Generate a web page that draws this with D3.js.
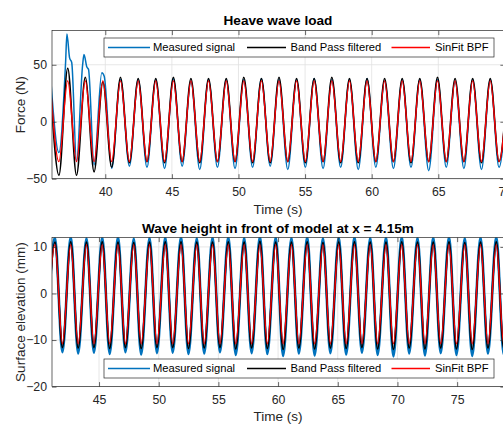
<!DOCTYPE html>
<html>
<head>
<meta charset="utf-8">
<script src="https://cdn.jsdelivr.net/npm/d3@7"></script>
<style>
  body { margin: 0; background: #fff; }
  svg { display: block; font-family: "Liberation Sans", Arial, Helvetica, sans-serif; }
</style>
</head>
<body>
<svg id="chart" width="503" height="425"></svg>
<script>
// ---------- data ----------
const seriesNames = ["Measured signal", "Band Pass filtered", "SinFit BPF"];

// Heave wave load: crest / trough instants (s), alternating crest, trough, ...
const forceT = [35.86, 36.52, 37.18, 37.84, 38.50, 39.16, 39.82, 40.48, 41.14, 41.81,
  42.47, 43.13, 43.79, 44.45, 45.11, 45.77, 46.43, 47.09, 47.75, 48.42,
  49.08, 49.74, 50.40, 51.06, 51.72, 52.38, 53.04, 53.70, 54.36, 55.02,
  55.68, 56.35, 57.01, 57.67, 58.33, 58.99, 59.65, 60.31, 60.97, 61.63,
  62.29, 62.95, 63.61, 64.28, 64.94, 65.60, 66.26, 66.92, 67.58, 68.24,
  68.90, 69.56, 70.22];
// band pass filtered force (N)
const forceBpf = [36, -47, 47, -47, 39, -44, 35, -40, 39, -36,
  38, -35, 38, -36, 39, -35, 38, -36, 38, -35,
  38, -35, 39, -36, 38, -36, 39, -35, 38, -36,
  38, -35, 39, -36, 38, -36, 38, -35, 38, -35,
  38, -36, 38, -35, 39, -35, 38, -35, 38, -36,
  38, -35, 38];
// sine fit of the filtered force (N)
const forceSinFit = [36, -35, 36, -35, 36, -35, 36, -35, 36, -35,
  36, -35, 36, -35, 36, -35, 36, -35, 36, -35,
  36, -35, 36, -35, 36, -35, 36, -35, 36, -35,
  36, -35, 36, -35, 36, -35, 36, -35, 36, -35,
  36, -35, 36, -35, 36, -35, 36, -35, 36, -35,
  36, -35, 36];
// measured force, with the slamming spikes of the first cycles
const forceMeasT = [35.86, 36.52, 37.02, 37.12, 37.32, 37.48, 37.84, 38.30, 38.40, 38.62,
  38.74, 39.16, 39.74, 39.92, 40.48, 41.14, 41.81, 42.47, 43.13, 43.79,
  44.45, 45.11, 45.77, 46.43, 47.09, 47.75, 48.42, 49.08, 49.74, 50.40,
  51.06, 51.72, 52.38, 53.04, 53.70, 54.36, 55.02, 55.68, 56.35, 57.01,
  57.67, 58.33, 58.99, 59.65, 60.31, 60.97, 61.63, 62.29, 62.95, 63.61,
  64.28, 64.94, 65.60, 66.26, 66.92, 67.58, 68.24, 68.90, 69.56, 70.22];
const forceMeas = [45, -27, 52, 77, 56, 52, -35, 50, 59, 48,
  46, -38, 43, 40, -41, 37, -39, 37, -40, 37,
  -41, 38, -39, 36, -42, 37, -40, 37, -41, 37,
  -40, 38, -39, 37, -42, 37, -40, 38, -41, 37,
  -40, 37, -42, 38, -40, 36, -41, 37, -40, 37,
  -43, 37, -40, 36, -41, 37, -42, 37, -40, 37];

// Surface elevation: trough / crest instants (s), alternating trough, crest, ...
const waveT = [40.61, 41.31, 41.93, 42.63, 43.25, 43.95, 44.57, 45.27, 45.89, 46.59,
  47.21, 47.91, 48.53, 49.23, 49.85, 50.55, 51.17, 51.87, 52.49, 53.19,
  53.81, 54.51, 55.13, 55.83, 56.45, 57.16, 57.78, 58.48, 59.10, 59.80,
  60.42, 61.12, 61.74, 62.44, 63.06, 63.76, 64.38, 65.08, 65.70, 66.40,
  67.02, 67.72, 68.34, 69.04, 69.66, 70.36, 70.98, 71.68, 72.30, 73.00,
  73.62, 74.32, 74.94, 75.64, 76.26, 76.96, 77.58, 78.28, 78.90, 79.60];
const waveMeas = [-12.8, 12.0, -12.6, 12.2, -12.9, 11.9, -12.7, 12.1, -13.0, 12.2,
  -12.6, 11.8, -13.1, 12.0, -12.8, 12.1, -12.7, 12.2, -13.0, 11.9,
  -12.9, 12.1, -12.6, 12.2, -13.2, 12.0, -12.8, 12.3, -13.0, 12.1,
  -13.4, 12.0, -12.9, 12.2, -13.3, 11.9, -12.8, 12.1, -13.1, 12.2,
  -12.7, 12.0, -13.2, 12.1, -13.5, 12.2, -12.9, 12.0, -13.3, 12.1,
  -12.8, 12.2, -13.2, 11.9, -13.4, 12.1, -12.9, 12.2, -13.1, 12.0];
const waveBpf = [-11.5, 11.0, -11.6, 11.1, -11.7, 11.0, -11.6, 11.1, -11.8, 11.0,
  -11.6, 10.9, -11.8, 11.0, -11.6, 11.1, -11.6, 11.1, -11.8, 11.0,
  -11.7, 11.0, -11.6, 11.1, -11.9, 11.0, -11.7, 11.2, -11.8, 11.0,
  -12.0, 11.0, -11.7, 11.1, -11.9, 10.9, -11.7, 11.1, -11.8, 11.1,
  -11.6, 11.0, -11.9, 11.0, -12.0, 11.1, -11.7, 11.0, -11.9, 11.0,
  -11.7, 11.1, -11.9, 10.9, -12.0, 11.0, -11.7, 11.1, -11.8, 11.0];
const waveSinFit = [-10.8, 10.5, -10.8, 10.5, -10.8, 10.5, -10.8, 10.5, -10.8, 10.5,
  -10.8, 10.5, -10.8, 10.5, -10.8, 10.5, -10.8, 10.5, -10.8, 10.5,
  -10.8, 10.5, -10.8, 10.5, -10.8, 10.5, -10.8, 10.5, -10.8, 10.5,
  -10.8, 10.5, -10.8, 10.5, -10.8, 10.5, -10.8, 10.5, -10.8, 10.5,
  -10.8, 10.5, -10.8, 10.5, -10.8, 10.5, -10.8, 10.5, -10.8, 10.5,
  -10.8, 10.5, -10.8, 10.5, -10.8, 10.5, -10.8, 10.5, -10.8, 10.5];

// axis ticks
const forceTicksX = [40, 45, 50, 55, 60, 65, 70];
const forceTicksY = [-50, 0, 50];
const waveTicksX = [45, 50, 55, 60, 65, 70, 75];
const waveTicksY = [-20, -10, 0, 10];

// ---------- layout & style ----------
const svg = d3.select("#chart");
const AX = "#262626";
const GRID = "#e1e1e1";
const colors = ["#0072BD", "#000000", "#FF0000"];
const plotL = 52, plotR = 504.9;
const legendX = [[108, 150, 153], [247, 286, 290.5], [391.5, 430, 435]];

function pairs(ts, vs) { return ts.map((t, i) => [t, vs[i]]); }

function panel(cfg, idx) {
  const x = d3.scaleLinear().domain(cfg.xDomain).range([plotL, plotR]);
  const y = d3.scaleLinear().domain(cfg.yDomain).range([cfg.bottom, cfg.top]);
  const g = svg.append("g");

  // grid
  g.append("g").selectAll("line").data(cfg.xTicks).join("line")
    .attr("x1", d => x(d)).attr("x2", d => x(d))
    .attr("y1", cfg.top).attr("y2", cfg.bottom)
    .attr("stroke", GRID).attr("stroke-width", 0.8);
  g.append("g").selectAll("line").data(cfg.yTicks).join("line")
    .attr("x1", plotL).attr("x2", plotR)
    .attr("y1", d => y(d)).attr("y2", d => y(d))
    .attr("stroke", GRID).attr("stroke-width", 0.8);

  // data
  const clipId = "clip" + idx;
  g.append("clipPath").attr("id", clipId).append("rect")
    .attr("x", plotL).attr("y", cfg.top)
    .attr("width", plotR - plotL).attr("height", cfg.bottom - cfg.top);
  const line = d3.line().x(d => x(d[0])).y(d => y(d[1])).curve(d3.curveMonotoneX);
  const lines = g.append("g").attr("clip-path", `url(#${clipId})`);
  cfg.series.forEach((s, i) => {
    lines.append("path").datum(s)
      .attr("d", line).attr("fill", "none")
      .attr("stroke", colors[i]).attr("stroke-width", cfg.widths[i])
      .attr("stroke-linejoin", "round");
  });

  // axes with inward ticks on all four sides
  const styleAxis = a => {
    a.select(".domain").remove();
    a.attr("font-family", null).attr("font-size", 12.3);
    a.selectAll(".tick line").attr("stroke", AX).attr("stroke-width", 0.7);
    a.selectAll(".tick text").attr("fill", AX);
  };
  g.append("g").attr("transform", `translate(0,${cfg.bottom})`)
    .call(d3.axisBottom(x).tickValues(cfg.xTicks).tickSizeInner(-4.5).tickSizeOuter(0).tickPadding(9))
    .call(styleAxis);
  g.append("g").attr("transform", `translate(0,${cfg.top})`)
    .call(d3.axisTop(x).tickValues(cfg.xTicks).tickSizeInner(-4.5).tickSizeOuter(0).tickFormat(""))
    .call(styleAxis);
  g.append("g").attr("transform", `translate(${plotL},0)`)
    .call(d3.axisLeft(y).tickValues(cfg.yTicks).tickSizeInner(-4.5).tickSizeOuter(0).tickPadding(5))
    .call(styleAxis);
  g.append("g").attr("transform", `translate(${plotR},0)`)
    .call(d3.axisRight(y).tickValues(cfg.yTicks).tickSizeInner(-4.5).tickSizeOuter(0).tickFormat(""))
    .call(styleAxis);

  g.append("rect").attr("x", plotL).attr("y", cfg.top)
    .attr("width", plotR - plotL).attr("height", cfg.bottom - cfg.top)
    .attr("fill", "none").attr("stroke", AX).attr("stroke-width", 0.7);

  // titles and labels
  const cx = (plotL + plotR) / 2 - 0.5;
  g.append("text").attr("x", cx).attr("y", cfg.titleY)
    .attr("text-anchor", "middle").attr("font-weight", "bold").attr("font-size", 13.6)
    .attr("fill", "#000").text(cfg.title);
  g.append("text").attr("x", cx).attr("y", cfg.xLabelY)
    .attr("text-anchor", "middle").attr("font-size", 13.5).attr("fill", AX).text("Time (s)");
  g.append("text")
    .attr("transform", `translate(20,${(cfg.top + cfg.bottom) / 2}) rotate(-90)`)
    .attr("dy", "0.35em").attr("text-anchor", "middle").attr("font-size", 13.5)
    .attr("fill", AX).text(cfg.yLabel);

  // legend
  const lg = g.append("g");
  lg.append("rect").attr("x", 104).attr("y", cfg.legendY).attr("width", 390).attr("height", 19)
    .attr("fill", "#fff").attr("stroke", AX).attr("stroke-width", 0.7);
  seriesNames.forEach((name, i) => {
    const [x1, x2, tx] = legendX[i];
    const cy = cfg.legendY + 9.5;
    lg.append("path").attr("d", `M${x1},${cy}H${x2}`)
      .attr("fill", "none").attr("stroke", colors[i]).attr("stroke-width", 1.5);
    lg.append("text").attr("x", tx).attr("y", cy).attr("dy", "0.35em")
      .attr("font-size", 11.2).attr("fill", "#000").text(name);
  });
}

panel({
  top: 30.6, bottom: 178.7,
  xDomain: [36, 70], yDomain: [-50, 80],
  xTicks: forceTicksX, yTicks: forceTicksY,
  title: "Heave wave load", titleY: 25.4, xLabelY: 213.8,
  yLabel: "Force (N)", legendY: 38,
  series: [pairs(forceMeasT, forceMeas), pairs(forceT, forceBpf), pairs(forceT, forceSinFit)],
  widths: [1.5, 1.6, 1.4]
}, 0);

panel({
  top: 237.6, bottom: 386.6,
  xDomain: [41.06, 79.0], yDomain: [-20, 12],
  xTicks: waveTicksX, yTicks: waveTicksY,
  title: "Wave height in front of model at x = 4.15m", titleY: 233.0, xLabelY: 420.8,
  yLabel: "Surface elevation (mm)", legendY: 359,
  series: [pairs(waveT, waveMeas), pairs(waveT, waveBpf), pairs(waveT, waveSinFit)],
  widths: [2.6, 1.8, 1.4]
}, 1);
</script>
</body>
</html>
